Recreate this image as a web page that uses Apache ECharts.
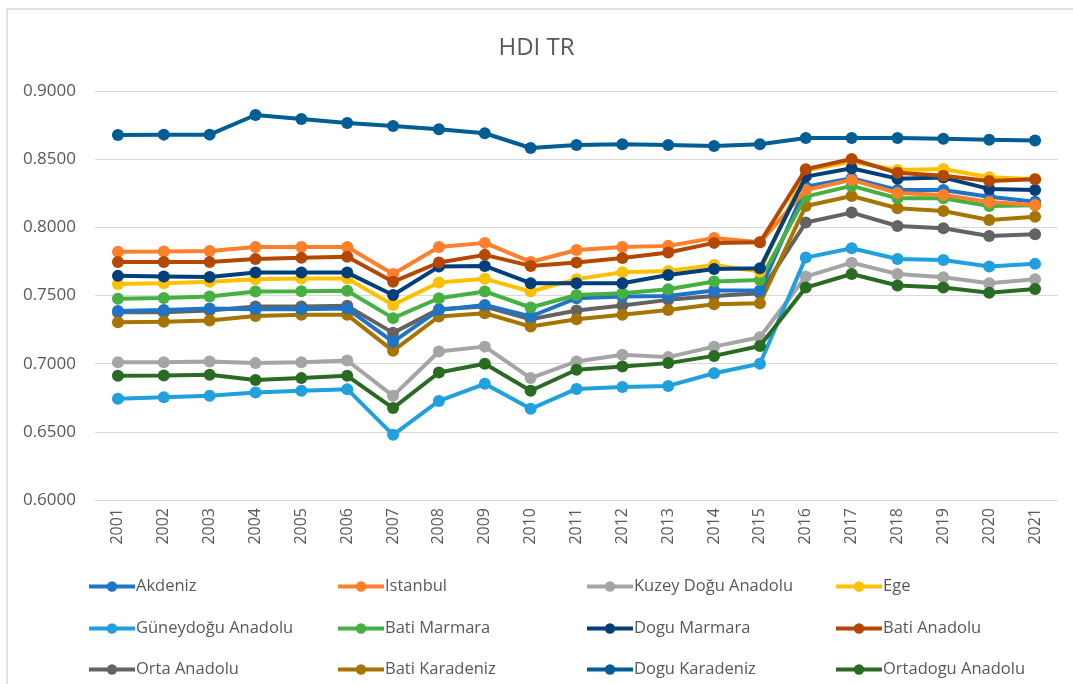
<!DOCTYPE html>
<html>
<head>
<meta charset="utf-8">
<title>HDI TR</title>
<script src="https://cdn.jsdelivr.net/npm/echarts@6/dist/echarts.min.js"></script>
<style>
  html, body { margin: 0; padding: 0; background: #fff; }
  #main { width: 1073px; height: 684px; }
</style>
</head>
<body>
<div id="main"></div>
<script type="text/javascript">
var years = ['2001','2002','2003','2004','2005','2006','2007','2008','2009','2010','2011',
             '2012','2013','2014','2015','2016','2017','2018','2019','2020','2021'];

var akdeniz   = [0.7387,0.7394,0.7404,0.7400,0.7400,0.7404,0.7160,0.7394,0.7431,0.7346,0.7480,0.7492,0.7497,0.7536,0.7536,0.8298,0.8360,0.8274,0.8274,0.8225,0.8188];
var istanbul  = [0.7820,0.7822,0.7827,0.7856,0.7856,0.7856,0.7658,0.7856,0.7886,0.7746,0.7834,0.7856,0.7864,0.7922,0.7890,0.8274,0.8348,0.8252,0.8238,0.8186,0.8164];
var kuzeyDogu = [0.7011,0.7011,0.7016,0.7004,0.7011,0.7023,0.6764,0.7089,0.7125,0.6894,0.7016,0.7065,0.7048,0.7125,0.7194,0.7639,0.7741,0.7658,0.7634,0.7590,0.7620];
var ege       = [0.7585,0.7590,0.7600,0.7620,0.7624,0.7624,0.7431,0.7595,0.7622,0.7529,0.7620,0.7671,0.7680,0.7724,0.7675,0.8419,0.8480,0.8420,0.8428,0.8367,0.8353];
var guneydogu = [0.6742,0.6754,0.6764,0.6788,0.6801,0.6813,0.6478,0.6727,0.6852,0.6669,0.6815,0.6828,0.6837,0.6930,0.6999,0.7778,0.7847,0.7768,0.7761,0.7712,0.7732];
var batiMarmara = [0.7477,0.7482,0.7492,0.7530,0.7532,0.7535,0.7334,0.7480,0.7530,0.7412,0.7504,0.7516,0.7546,0.7602,0.7614,0.8225,0.8304,0.8213,0.8213,0.8157,0.8162];
var doguMarmara = [0.7644,0.7640,0.7636,0.7668,0.7668,0.7668,0.7504,0.7712,0.7717,0.7590,0.7590,0.7590,0.7651,0.7695,0.7700,0.8372,0.8433,0.8357,0.8365,0.8282,0.8274];
var batiAnadolu = [0.7746,0.7746,0.7746,0.7768,0.7776,0.7785,0.7600,0.7742,0.7798,0.7717,0.7742,0.7775,0.7815,0.7886,0.7890,0.8426,0.8501,0.8400,0.8379,0.8340,0.8353];
var ortaAnadolu = [0.7377,0.7377,0.7390,0.7419,0.7419,0.7424,0.7226,0.7400,0.7419,0.7326,0.7390,0.7426,0.7468,0.7497,0.7516,0.8035,0.8108,0.8010,0.7993,0.7937,0.7949];
var batiKaradeniz = [0.7304,0.7307,0.7316,0.7350,0.7358,0.7358,0.7094,0.7346,0.7370,0.7272,0.7326,0.7358,0.7394,0.7436,0.7443,0.8157,0.8230,0.8140,0.8120,0.8054,0.8078];
var doguKaradeniz = [0.8677,0.8680,0.8680,0.8824,0.8795,0.8765,0.8743,0.8720,0.8690,0.8582,0.8604,0.8610,0.8604,0.8597,0.8610,0.8655,0.8655,0.8655,0.8650,0.8643,0.8637];
var ortadogu  = [0.6911,0.6914,0.6918,0.6881,0.6894,0.6911,0.6674,0.6935,0.6999,0.6801,0.6955,0.6979,0.7004,0.7057,0.7130,0.7558,0.7658,0.7573,0.7558,0.7521,0.7548];

var names = ['Akdeniz','Istanbul','Kuzey Doğu Anadolu','Ege',
             'Güneydoğu Anadolu','Bati Marmara','Dogu Marmara','Bati Anadolu',
             'Orta Anadolu','Bati Karadeniz','Dogu Karadeniz','Ortadogu Anadolu'];
var values = [akdeniz, istanbul, kuzeyDogu, ege,
              guneydogu, batiMarmara, doguMarmara, batiAnadolu,
              ortaAnadolu, batiKaradeniz, doguKaradeniz, ortadogu];
var colors = ['#1F74C8','#FF7F2A','#A5A5A5','#FFC000',
              '#20A0DC','#46B040','#003F7A','#B44800',
              '#636363','#A87400','#005E95','#2A6B24'];
// order lines are painted (bottom first), so overlaps look like the picture
var drawOrder = [8,2,4,11,9,0,5,3,1,6,7,10];

var colX = [87, 336, 585, 834];
var rowY = [578, 620, 661];

var chart = echarts.init(document.getElementById('main'));
var font = 'Open Sans';

var series = [];
for (var k = 0; k < drawOrder.length; k++) {
    var i = drawOrder[k];
    series.push({
        name: names[i],
        type: 'line',
        data: values[i],
        z: 2 + k,
        symbol: 'circle',
        symbolSize: 12,
        lineStyle: { width: 4, color: colors[i] },
        itemStyle: { color: colors[i] },
        emphasis: { disabled: true }
    });
}

var legends = [];
for (var j = 0; j < names.length; j++) {
    legends.push({
        data: [names[j]],
        left: colX[j % 4],
        top: rowY[Math.floor(j / 4)],
        itemWidth: 46,
        itemHeight: 13,
        itemGap: 0,
        padding: 0,
        lineStyle: { width: 4 },
        textStyle: { fontFamily: font, fontSize: 16.5, color: '#595959', padding: [0, 0, 0, -4] }
    });
}

var option = {
    backgroundColor: '#fff',
    animation: false,
    color: colors,
    title: {
        text: 'HDI TR',
        left: 'center',
        top: 31,
        textStyle: { fontFamily: font, fontSize: 24, fontWeight: 'normal', color: '#595959' }
    },
    legend: legends,
    grid: { left: 95, right: 15, top: 91, bottom: 184 },
    xAxis: {
        type: 'category',
        data: years,
        boundaryGap: true,
        axisLine: { show: true, lineStyle: { color: '#D9D9D9', width: 1 } },
        axisTick: { show: false },
        axisLabel: { rotate: 90, margin: 8, fontFamily: font, fontSize: 16, color: '#595959' }
    },
    yAxis: {
        type: 'value',
        min: 0.6,
        max: 0.9,
        interval: 0.05,
        axisLine: { show: false },
        axisTick: { show: false },
        splitLine: { lineStyle: { color: '#D9D9D9', width: 1 } },
        axisLabel: {
            margin: 19,
            fontFamily: font, fontSize: 17, color: '#595959',
            formatter: function (v) { return v.toFixed(4); }
        }
    },
    graphic: [{
        type: 'rect',
        shape: { x: 7, y: 9, width: 1080, height: 700 },
        style: { fill: 'none', stroke: '#D9D9D9', lineWidth: 1.5 },
        silent: true
    }],
    series: series
};

chart.setOption(option);
</script>
</body>
</html>
